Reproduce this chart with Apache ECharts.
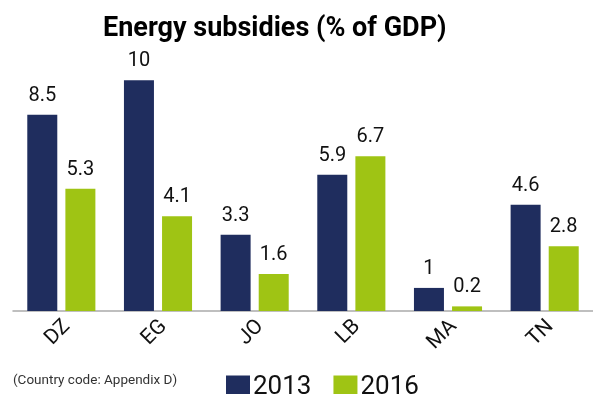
<!DOCTYPE html>
<html>
<head>
<meta charset="utf-8">
<script src="https://cdn.jsdelivr.net/npm/echarts@6/dist/echarts.min.js"></script>
<style>
  html, body { margin: 0; padding: 0; background: #fff; }
  #chart { width: 593px; height: 394px; }
</style>
</head>
<body>
<div id="chart"></div>
<script>
// Energy subsidies by country, share of GDP
const countries = ['DZ', 'EG', 'JO', 'LB', 'MA', 'TN'];
const values2013 = [8.5, 10, 3.3, 5.9, 1, 4.6];
const values2016 = [5.3, 4.1, 1.6, 6.7, 0.2, 2.8];
const seriesNames = ['2013', '2016'];

const navy = '#1f2d5e';
const lime = '#9fc414';
const fontFamily = 'Roboto, "Noto Sans", sans-serif';

const chart = echarts.init(document.getElementById('chart'));

const labelStyle = {
  show: true,
  position: 'top',
  distance: 9,
  fontSize: 20,
  color: '#111',
  fontFamily: fontFamily
};

chart.setOption({
  animation: false,
  title: {
    text: 'Energy subsidies (% of GDP)',
    left: 98,
    top: 11,
    textStyle: { fontSize: 27, fontWeight: 'bold', color: '#000', fontFamily: fontFamily }
  },
  grid: { left: 13, right: 0, top: 34, bottom: 83 },
  legend: {
    data: seriesNames,
    left: 221,
    top: 369,
    itemWidth: 24,
    itemHeight: 23,
    itemGap: 22,
    icon: 'rect',
    textStyle: { fontSize: 26, color: '#111', fontFamily: fontFamily, padding: [0, 0, 0, -2] }
  },
  graphic: [{
    type: 'text',
    left: 13,
    top: 374,
    style: { text: '(Country code: Appendix D)', fontSize: 13.5, fill: '#333', fontFamily: fontFamily }
  }],
  xAxis: {
    type: 'category',
    data: countries,
    axisLine: { lineStyle: { color: '#aaa', width: 1.5 } },
    axisTick: { show: false },
    axisLabel: {
      rotate: 45,
      fontSize: 21,
      color: '#111',
      fontFamily: fontFamily,
      margin: 18,
      padding: [11, -8, 0, 0]
    }
  },
  yAxis: {
    type: 'value',
    min: 0,
    max: 12,
    show: false
  },
  series: [
    {
      name: seriesNames[0],
      type: 'bar',
      data: values2013,
      barWidth: 30,
      barGap: '27%',
      itemStyle: { color: navy },
      label: labelStyle
    },
    {
      name: seriesNames[1],
      type: 'bar',
      data: values2016,
      barWidth: 30,
      barGap: '27%',
      itemStyle: { color: lime },
      label: labelStyle
    }
  ]
});
</script>
</body>
</html>
